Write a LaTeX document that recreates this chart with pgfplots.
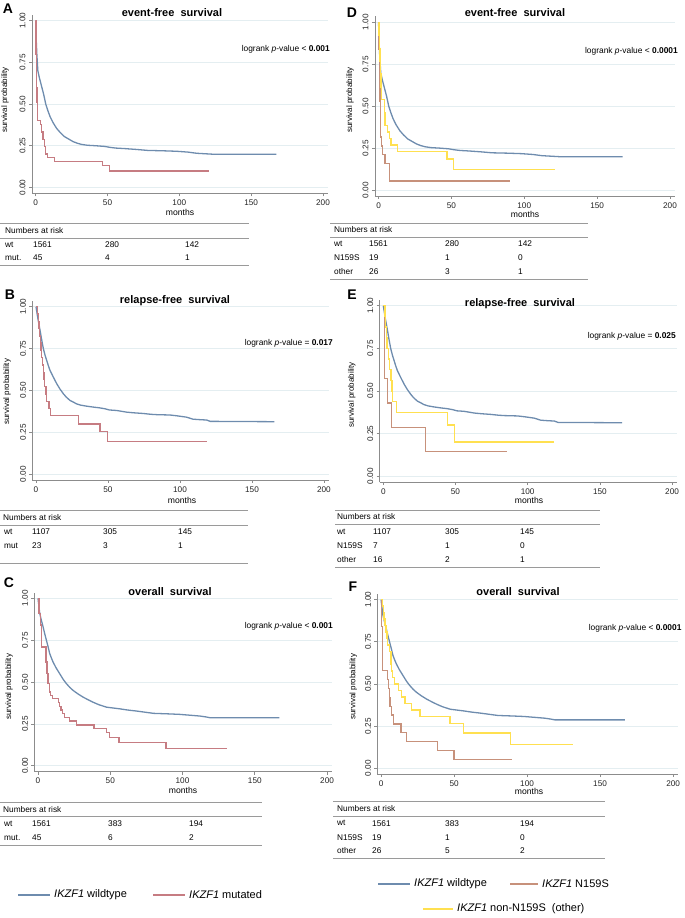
\documentclass[border=0pt]{standalone}
\usepackage{fontspec}
\setmainfont{Liberation Sans}
\usepackage{pgfplots}
\pgfplotsset{compat=1.18}
\definecolor{wtc}{HTML}{6E8CAE}
\definecolor{mutc}{HTML}{C67C82}
\definecolor{nsc}{HTML}{C7917B}
\definecolor{othc}{HTML}{FFE050}
\definecolor{gridc}{HTML}{E4EEF1}
\definecolor{axc}{HTML}{8C8C8C}
\definecolor{tabc}{HTML}{9A9A9A}
\newcommand{\fs}[1]{\fontsize{#1}{#1}\selectfont}
\pgfplotsset{
 km/.style={scale only axis, anchor=south west,
  xmin=-2.5, xmax=203.5, ymin=-0.035, ymax=1.035,
  axis x line*=bottom, axis y line*=left,
  axis line style={axc, line width=0.8pt, -},
  xtick={0,50,100,150,200}, ytick={0,0.25,0.5,0.75,1},
  yticklabels={0.00,0.25,0.50,0.75,1.00},
  tick align=outside, major tick length=3pt,
  tick style={axc, line width=0.7pt},
  ymajorgrids, grid style={gridc, line width=0.7pt},
  tick label style={font=\fs{8.2}, text=black!85},
  yticklabel style={rotate=90, anchor=south},
  /pgf/number format/assume math mode=true,
  every axis plot/.append style={line width=1.3pt, no marks},
 }
}
\newcommand{\T}[3]{\node[anchor=west, inner sep=0pt, font=\fs{8.3}] at (#1pt,-#2pt) {#3};}
\newcommand{\HL}[3]{\draw[tabc, line width=0.7pt] (#1pt,-#3pt) -- (#2pt,-#3pt);}
\newcommand{\Letter}[3]{\node[font=\fs{14}\bfseries, inner sep=0pt] at (#1pt,-#2pt) {#3};}
\newcommand{\Title}[3]{\node[font=\fs{11}\bfseries, inner sep=0pt] at (#1pt,-#2pt) {#3};}
\newcommand{\Logrank}[3]{\node[anchor=east, font=\fs{8.4}, inner sep=0pt] at (#1pt,-#2pt) {logrank \textit{p}-value #3};}
\newcommand{\Months}[2]{\node[font=\fs{8.6}, inner sep=0pt] at (#1pt,-#2pt) {months};}
\newcommand{\Ylab}[2]{\node[font=\fs{8}, rotate=90, inner sep=0pt] at (#1pt,-#2pt) {survival probability};}
\newcommand{\Leg}[5]{\draw[#1, line width=1.1pt] (#2pt,-#4pt) -- (#3pt,-#4pt); \node[anchor=west, inner sep=0pt, font=\fs{11}] at (#3pt+4pt,-#4pt) {#5};}
\begin{document}
\begin{tikzpicture}
\path[use as bounding box] (0pt,0pt) rectangle (685pt,-918pt);

% ---------- A ----------
\begin{axis}[km, at={(32.1pt,-193.3pt)}, width=295.9pt, height=178.5pt]
\addplot[wtc] coordinates {(0,1)(0.3,0.90)(0.8,0.80)(1.5,0.70)(2.5,0.66)(4,0.61)(5.5,0.56)(7,0.50)(8.5,0.46)(10,0.425)(12,0.39)(14.5,0.355)(17,0.33)(20,0.305)(23,0.29)(26,0.275)(29,0.265)(32,0.258)(36,0.253)(42,0.25)(48,0.246)(52,0.24)(56,0.236)(62,0.233)(70,0.228)(78,0.222)(88,0.22)(98,0.217)(106,0.212)(112,0.205)(118,0.202)(124,0.199)(167.5,0.199)};
\addplot[mutc, const plot] coordinates {(0,1)(0.3,0.8)(0.6,0.6)(0.9,0.511)(1.4,0.40)(3.5,0.378)(4.2,0.333)(5,0.289)(6,0.244)(7,0.20)(8,0.178)(13,0.156)(46.5,0.133)(51.5,0.098)(121,0.098)};
\end{axis}
\Letter{8}{9}{A}
\Title{172}{13}{event-free\ \ survival}
\Logrank{330}{49}{< \textbf{0.001}}
\Months{180}{212}
\Ylab{5}{100}
\HL{0}{249}{223}\HL{0}{249}{238}\HL{0}{249}{265}
\T{5}{230.5}{Numbers at risk}
\T{5}{245}{wt}\T{33}{245}{1561}\T{105}{245}{280}\T{185}{245}{142}
\T{5}{258}{mut.}\T{33}{258}{45}\T{105}{258}{4}\T{185}{258}{1}

% ---------- B ----------
\begin{axis}[km, at={(32.4pt,-479.9pt)}, width=296.6pt, height=179pt]
\addplot[wtc] coordinates {(0,1)(1.3,0.93)(2.8,0.86)(4,0.80)(5.1,0.75)(6.3,0.71)(7.4,0.68)(8.5,0.65)(9.7,0.62)(12,0.58)(14.4,0.54)(16.5,0.51)(19,0.48)(21,0.46)(23.6,0.44)(26,0.43)(28,0.42)(31,0.412)(35,0.406)(40,0.40)(44,0.396)(48,0.39)(51,0.383)(56,0.38)(63,0.37)(68,0.366)(74.5,0.362)(80,0.357)(84,0.355)(93,0.353)(98,0.348)(104.6,0.34)(109,0.328)(114,0.325)(118.5,0.323)(121,0.315)(165.5,0.313)};
\addplot[mutc, const plot] coordinates {(0,1)(1,0.957)(1.5,0.913)(2,0.87)(2.5,0.826)(3,0.783)(3.5,0.739)(4,0.696)(4.6,0.652)(5,0.609)(5.5,0.565)(6,0.522)(7,0.478)(7.5,0.435)(9,0.391)(10,0.348)(29.5,0.30)(44.5,0.255)(49.8,0.195)(118.5,0.195)};
\end{axis}
\Letter{10}{295}{B}
\Title{175}{300.7}{relapse-free\ \ survival}
\Logrank{333}{343}{= \textbf{0.017}}
\Months{182}{500.7}
\Ylab{7}{391.7}
\HL{0}{248}{510.7}\HL{0}{248}{525.7}\HL{0}{248}{563}
\T{3}{518}{Numbers at risk}
\T{4}{532}{wt}\T{32}{532}{1107}\T{103}{532}{305}\T{178}{532}{145}
\T{4}{545.7}{mut}\T{32}{545.7}{23}\T{103}{545.7}{3}\T{178}{545.7}{1}

% ---------- C ----------
\begin{axis}[km, at={(34.4pt,-771.6pt)}, width=297.7pt, height=179.1pt]
\addplot[wtc] coordinates {(0,1)(1.2,0.91)(2.3,0.87)(3.5,0.83)(4.6,0.79)(5.8,0.75)(7,0.71)(8.1,0.67)(9.2,0.645)(10.4,0.62)(12.5,0.585)(15,0.55)(17.5,0.515)(19.7,0.49)(22,0.468)(24.3,0.45)(27.5,0.43)(31.2,0.41)(34.5,0.395)(38,0.38)(42,0.365)(47.4,0.35)(52,0.345)(56.6,0.34)(62,0.333)(68,0.327)(74,0.32)(80,0.313)(90,0.31)(98,0.307)(105,0.302)(112,0.297)(116,0.292)(119,0.287)(167,0.287)};
\addplot[mutc, const plot] coordinates {(0,1)(0.7,0.91)(1.5,0.84)(2.5,0.71)(5.5,0.62)(6.3,0.55)(7,0.49)(7.8,0.44)(8.5,0.42)(10,0.40)(14,0.378)(15,0.356)(16,0.333)(17,0.311)(18.5,0.289)(22,0.267)(26.5,0.244)(38.8,0.222)(47.5,0.20)(49.5,0.167)(56,0.137)(88.5,0.104)(131,0.104)};
\end{axis}
\Letter{9}{583}{C}
\Title{170}{592}{overall\ \ survival}
\Logrank{333}{626.7}{< \textbf{0.001}}
\Months{183}{790}
\Ylab{9}{686.7}
\HL{0}{262}{802.7}\HL{0}{262}{816.7}\HL{0}{262}{845}
\T{3}{810}{Numbers at risk}
\T{4}{824}{wt}\T{32}{824}{1561}\T{108}{824}{383}\T{189}{824}{194}
\T{4}{838}{mut.}\T{32}{838}{45}\T{108}{838}{6}\T{189}{838}{2}

% ---------- D ----------
\begin{axis}[km, at={(374.9pt,-195.9pt)}, width=300.2pt, height=179.4pt]
\addplot[wtc] coordinates {(0,1)(0.3,0.90)(0.8,0.80)(1.5,0.70)(2.5,0.66)(4,0.61)(5.5,0.56)(7,0.50)(8.5,0.46)(10,0.425)(12,0.39)(14.5,0.355)(17,0.33)(20,0.305)(23,0.29)(26,0.275)(29,0.265)(32,0.258)(36,0.253)(42,0.25)(48,0.246)(52,0.24)(56,0.236)(62,0.233)(70,0.228)(78,0.222)(88,0.22)(98,0.217)(106,0.212)(112,0.205)(118,0.202)(124,0.199)(167.5,0.199)};
\addplot[nsc, const plot] coordinates {(0,1)(0.3,0.842)(0.6,0.684)(0.9,0.526)(1.2,0.421)(1.5,0.316)(1.8,0.263)(2.5,0.211)(4.5,0.158)(7.6,0.053)(90,0.053)};
\addplot[othc, const plot] coordinates {(0,1)(0.3,0.923)(0.8,0.846)(1,0.769)(1.3,0.692)(1.6,0.615)(1.9,0.538)(4.2,0.462)(4.5,0.385)(6.3,0.346)(7.3,0.308)(8.5,0.269)(13,0.231)(47,0.185)(51.5,0.123)(121,0.123)};
\end{axis}
\Letter{352}{13}{D}
\Title{515}{13}{event-free\ \ survival}
\Logrank{678}{51}{< \textbf{0.0001}}
\Months{525}{214}
\Ylab{350}{100}
\HL{330}{588}{223}\HL{330}{588}{237}\HL{330}{588}{279}
\T{334}{230}{Numbers at risk}
\T{334}{244}{wt}\T{369}{244}{1561}\T{445}{244}{280}\T{518}{244}{142}
\T{334}{258}{N159S}\T{369}{258}{19}\T{445}{258}{1}\T{518}{258}{0}
\T{334}{272}{other}\T{369}{272}{26}\T{445}{272}{3}\T{518}{272}{1}

% ---------- E ----------
\begin{axis}[km, at={(379.7pt,-482pt)}, width=297.4pt, height=182.2pt]
\addplot[wtc] coordinates {(0,1)(1.3,0.93)(2.8,0.86)(4,0.80)(5.1,0.75)(6.3,0.71)(7.4,0.68)(8.5,0.65)(9.7,0.62)(12,0.58)(14.4,0.54)(16.5,0.51)(19,0.48)(21,0.46)(23.6,0.44)(26,0.43)(28,0.42)(31,0.412)(35,0.406)(40,0.40)(44,0.396)(48,0.39)(51,0.383)(56,0.38)(63,0.37)(68,0.366)(74.5,0.362)(80,0.357)(84,0.355)(93,0.353)(98,0.348)(104.6,0.34)(109,0.328)(114,0.325)(118.5,0.323)(121,0.315)(165.5,0.313)};
\addplot[nsc, const plot] coordinates {(0,1)(0.7,0.571)(2.8,0.429)(5.8,0.286)(29.4,0.143)(86,0.143)};
\addplot[othc, const plot] coordinates {(0,1)(1.2,0.9375)(1.6,0.875)(2,0.8125)(2.5,0.75)(3.5,0.6875)(4.2,0.625)(5.3,0.5625)(6,0.50)(6.5,0.4375)(9.2,0.375)(44.5,0.30)(49.5,0.20)(118,0.20)};
\end{axis}
\Letter{352}{295}{E}
\Title{520}{304}{relapse-free\ \ survival}
\Logrank{676}{336.7}{= \textbf{0.025}}
\Months{529}{500.7}
\Ylab{351.7}{395}
\HL{335}{600}{510}\HL{335}{600}{524.3}\HL{335}{600}{567.3}
\T{337}{517}{Numbers at risk}
\T{337}{532}{wt}\T{373}{532}{1107}\T{445}{532}{305}\T{520}{532}{145}
\T{337}{546}{N159S}\T{373}{546}{7}\T{445}{546}{1}\T{520}{546}{0}
\T{337}{560}{other}\T{373}{560}{16}\T{445}{560}{2}\T{520}{560}{1}

% ---------- F ----------
\begin{axis}[km, at={(377.4pt,-774.2pt)}, width=300.8pt, height=180.6pt]
\addplot[wtc] coordinates {(0,1)(1.2,0.91)(2.3,0.87)(3.5,0.83)(4.6,0.79)(5.8,0.75)(7,0.71)(8.1,0.67)(9.2,0.645)(10.4,0.62)(12.5,0.585)(15,0.55)(17.5,0.515)(19.7,0.49)(22,0.468)(24.3,0.45)(27.5,0.43)(31.2,0.41)(34.5,0.395)(38,0.38)(42,0.365)(47.4,0.35)(52,0.345)(56.6,0.34)(62,0.333)(68,0.327)(74,0.32)(80,0.313)(90,0.31)(98,0.307)(105,0.302)(112,0.297)(116,0.292)(119,0.287)(167,0.287)};
\addplot[nsc, const plot] coordinates {(0,1)(0.5,0.842)(0.8,0.684)(1,0.579)(4.3,0.526)(5,0.474)(5.6,0.421)(6.2,0.368)(7.3,0.316)(8.4,0.263)(13.7,0.211)(17.6,0.158)(38.5,0.105)(50,0.053)(90,0.053)};
\addplot[othc, const plot] coordinates {(0,1)(1,0.962)(1.5,0.923)(2,0.885)(2.7,0.846)(3.3,0.808)(4,0.769)(4.5,0.731)(6,0.692)(6.8,0.615)(7.3,0.577)(7.8,0.538)(9.1,0.50)(12,0.462)(14.1,0.423)(16.4,0.385)(21,0.346)(26.7,0.308)(47.2,0.266)(56.3,0.21)(88.7,0.142)(131.6,0.142)};
\end{axis}
\Letter{353}{587}{F}
\Title{518}{591.7}{overall\ \ survival}
\Logrank{681.7}{628}{< \textbf{0.0001}}
\Months{529}{791}
\Ylab{353.3}{686.7}
\HL{333}{605}{801.7}\HL{333}{605}{816}\HL{333}{605}{858}
\T{337}{809}{Numbers at risk}
\T{337}{823.3}{wt}\T{372}{823.3}{1561}\T{445}{823.3}{383}\T{520}{823.3}{194}
\T{337}{837.3}{N159S}\T{372}{837.3}{19}\T{445}{837.3}{1}\T{520}{837.3}{0}
\T{337}{851}{other}\T{372}{851}{26}\T{445}{851}{5}\T{520}{851}{2}

% ---------- legends ----------
\Leg{wtc}{18}{50}{895}{\textit{IKZF1} wildtype}
\Leg{mutc}{153}{185}{895}{\textit{IKZF1} mutated}
\Leg{wtc}{378}{410}{884}{\textit{IKZF1} wildtype}
\Leg{nsc}{510}{538}{884}{\textit{IKZF1} N159S}
\Leg{othc}{423}{453}{909}{\textit{IKZF1} non-N159S\ \ (other)}
\end{tikzpicture}
\end{document}
